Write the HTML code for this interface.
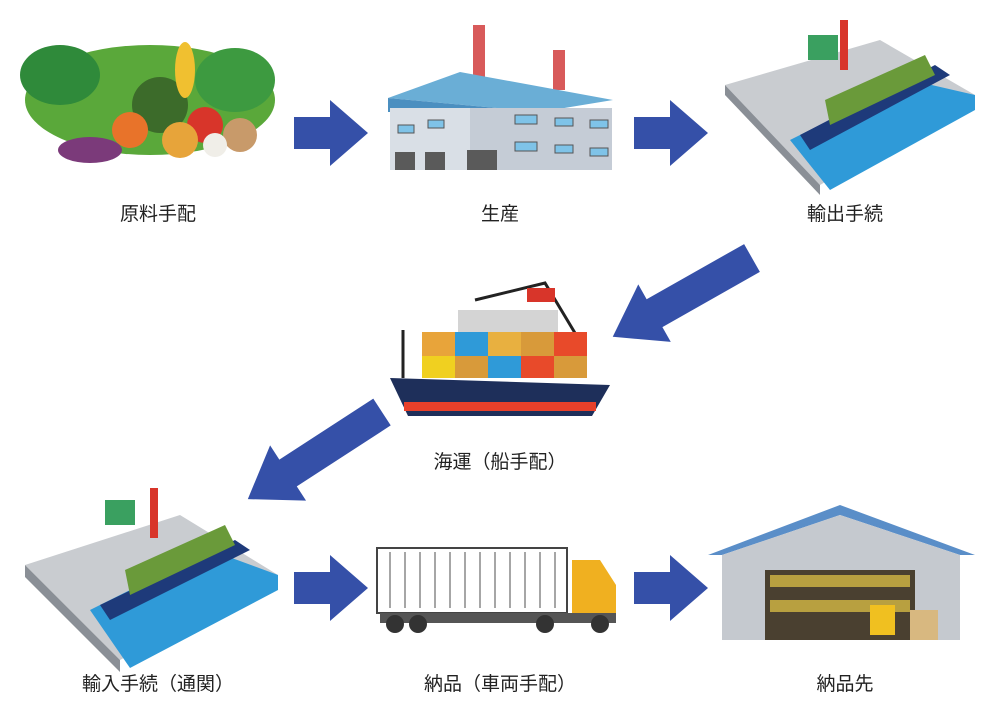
<!DOCTYPE html>
<html><head><meta charset="utf-8"><style>
html,body{margin:0;padding:0;background:#fff;}
.t{font-family:"Liberation Sans","Noto Sans CJK JP",sans-serif;font-size:19px;fill:#222;}
</style></head><body>
<svg width="1000" height="714" viewBox="0 0 1000 714" xmlns="http://www.w3.org/2000/svg">
<defs>
<path id="ar" d="M0,-16 L36,-16 L36,-33 L74,0 L36,33 L36,16 L0,16 Z" fill="#3550a8"/>
<path id="ard" d="M0,-16 L112,-16 L112,-33 L160,0 L112,33 L112,16 L0,16 Z" fill="#3550a8"/>
</defs>
<use href="#ar" x="294" y="133"/>
<use href="#ar" x="634" y="133"/>
<use href="#ar" x="294" y="588"/>
<use href="#ar" x="634" y="588"/>
<use href="#ard" transform="translate(752,258) rotate(150.5)"/>
<use href="#ard" transform="translate(382,412) rotate(147)"/>

<g>
<ellipse cx="150" cy="100" rx="125" ry="55" fill="#5aa83a"/>
<ellipse cx="60" cy="75" rx="40" ry="30" fill="#2f8a3a"/>
<ellipse cx="235" cy="80" rx="40" ry="32" fill="#3d9a40"/>
<circle cx="160" cy="105" r="28" fill="#3c6b2a"/>
<circle cx="205" cy="125" r="18" fill="#d8352a"/>
<circle cx="180" cy="140" r="18" fill="#e7a43a"/>
<circle cx="240" cy="135" r="17" fill="#c89a6a"/>
<ellipse cx="90" cy="150" rx="32" ry="13" fill="#7b3a7a"/>
<circle cx="130" cy="130" r="18" fill="#e8732a"/>
<ellipse cx="185" cy="70" rx="10" ry="28" fill="#f0c030"/>
<circle cx="215" cy="145" r="12" fill="#f0eee8"/>
</g>

<g>
<rect x="473" y="25" width="12" height="55" fill="#d85a5a"/>
<rect x="553" y="50" width="12" height="40" fill="#d85a5a"/>
<polygon points="388,98 460,72 613,100 540,112" fill="#6aaed6"/>
<polygon points="388,98 388,112 540,112" fill="#4b8fc0"/>
<rect x="390" y="108" width="80" height="62" fill="#d9dfe6"/>
<rect x="470" y="108" width="142" height="62" fill="#c5ccd6"/>
<rect x="395" y="152" width="20" height="18" fill="#5a5a5a"/>
<rect x="425" y="152" width="20" height="18" fill="#5a5a5a"/>
<rect x="467" y="150" width="30" height="20" fill="#5a5a5a"/>
<g fill="#7fc3e8" stroke="#555"><rect x="398" y="125" width="16" height="8"/><rect x="428" y="120" width="16" height="8"/><rect x="515" y="115" width="22" height="9"/><rect x="555" y="118" width="18" height="8"/><rect x="590" y="120" width="18" height="8"/><rect x="515" y="142" width="22" height="9"/><rect x="555" y="145" width="18" height="8"/><rect x="590" y="148" width="18" height="8"/></g>
</g>

<g>
<polygon points="725,85 880,40 975,95 820,185" fill="#c9ccd0"/>
<polygon points="725,85 820,185 820,195 725,95" fill="#8a8f96"/>
<polygon points="790,140 910,80 975,95 975,110 830,190" fill="#2f9ad8"/>
<polygon points="800,135 935,65 950,75 810,150" fill="#1e3a7a"/>
<polygon points="825,100 925,55 935,75 830,125" fill="#6a9a3a"/>
<rect x="840" y="20" width="8" height="50" fill="#d8352a"/>
<rect x="808" y="35" width="30" height="25" fill="#3aa060"/>
</g>
<text class="t" x="158" y="220" text-anchor="middle">原料手配</text>
<text class="t" x="500" y="220" text-anchor="middle">生産</text>
<text class="t" x="845" y="220" text-anchor="middle">輸出手続</text>

<g>
<line x1="403" y1="330" x2="403" y2="378" stroke="#222" stroke-width="3"/>
<polyline points="475,300 545,283 575,333" fill="none" stroke="#222" stroke-width="3"/>
<rect x="527" y="288" width="28" height="14" fill="#d8352a"/>
<rect x="458" y="310" width="100" height="22" fill="#d4d4d4"/>
<rect x="422" y="332" width="33" height="24" fill="#e8a43a"/><rect x="455" y="332" width="33" height="24" fill="#2f9ad8"/><rect x="488" y="332" width="33" height="24" fill="#e8b040"/><rect x="521" y="332" width="33" height="24" fill="#d89a3a"/><rect x="554" y="332" width="33" height="24" fill="#e84a2a"/>
<rect x="422" y="356" width="33" height="22" fill="#f0d020"/><rect x="455" y="356" width="33" height="22" fill="#d89a3a"/><rect x="488" y="356" width="33" height="22" fill="#2f9ad8"/><rect x="521" y="356" width="33" height="22" fill="#e84a2a"/><rect x="554" y="356" width="33" height="22" fill="#d89a3a"/>
<polygon points="390,378 610,385 592,416 408,416" fill="#1e2f5a"/>
<rect x="404" y="402" width="192" height="9" fill="#e8402a"/>
</g>
<text class="t" x="500" y="468" text-anchor="middle">海運（船手配）</text>

<g>
<polygon points="25,565 180,515 278,575 120,660" fill="#c9ccd0"/>
<polygon points="25,565 120,660 120,672 25,577" fill="#8a8f96"/>
<polygon points="90,610 210,550 278,575 278,590 130,668" fill="#2f9ad8"/>
<polygon points="100,605 235,540 250,550 110,620" fill="#1e3a7a"/>
<polygon points="125,570 225,525 235,545 130,595" fill="#6a9a3a"/>
<rect x="150" y="488" width="8" height="50" fill="#d8352a"/>
<rect x="105" y="500" width="30" height="25" fill="#3aa060"/>
</g>

<g>
<rect x="377" y="548" width="190" height="65" fill="#fff" stroke="#444" stroke-width="2"/>
<g stroke="#888" stroke-width="1.5">
<line x1="390" y1="552" x2="390" y2="608"/><line x1="405" y1="552" x2="405" y2="608"/><line x1="420" y1="552" x2="420" y2="608"/><line x1="435" y1="552" x2="435" y2="608"/><line x1="450" y1="552" x2="450" y2="608"/><line x1="465" y1="552" x2="465" y2="608"/><line x1="480" y1="552" x2="480" y2="608"/><line x1="495" y1="552" x2="495" y2="608"/><line x1="510" y1="552" x2="510" y2="608"/><line x1="525" y1="552" x2="525" y2="608"/><line x1="540" y1="552" x2="540" y2="608"/><line x1="555" y1="552" x2="555" y2="608"/>
</g>
<path d="M572,560 L600,560 L616,585 L616,620 L572,620 Z" fill="#f0b020"/>
<rect x="380" y="613" width="236" height="10" fill="#555"/>
<g fill="#333"><circle cx="395" cy="624" r="9"/><circle cx="418" cy="624" r="9"/><circle cx="545" cy="624" r="9"/><circle cx="600" cy="624" r="9"/></g>
</g>

<g>
<polygon points="708,555 840,505 975,555 960,555 840,515 722,555" fill="#5a8ec8"/>
<polygon points="722,555 840,515 960,555 960,640 722,640" fill="#c5c9cf"/>
<rect x="765" y="570" width="150" height="70" fill="#4a4030"/>
<rect x="770" y="575" width="140" height="12" fill="#b8a040"/>
<rect x="770" y="600" width="140" height="12" fill="#b8a040"/>
<rect x="870" y="605" width="25" height="30" fill="#f0c020"/>
<rect x="910" y="610" width="28" height="30" fill="#d8b880"/>
</g>
<text class="t" x="158" y="690" text-anchor="middle">輸入手続（通関）</text>
<text class="t" x="500" y="690" text-anchor="middle">納品（車両手配）</text>
<text class="t" x="845" y="690" text-anchor="middle">納品先</text>
</svg>
</body></html>
